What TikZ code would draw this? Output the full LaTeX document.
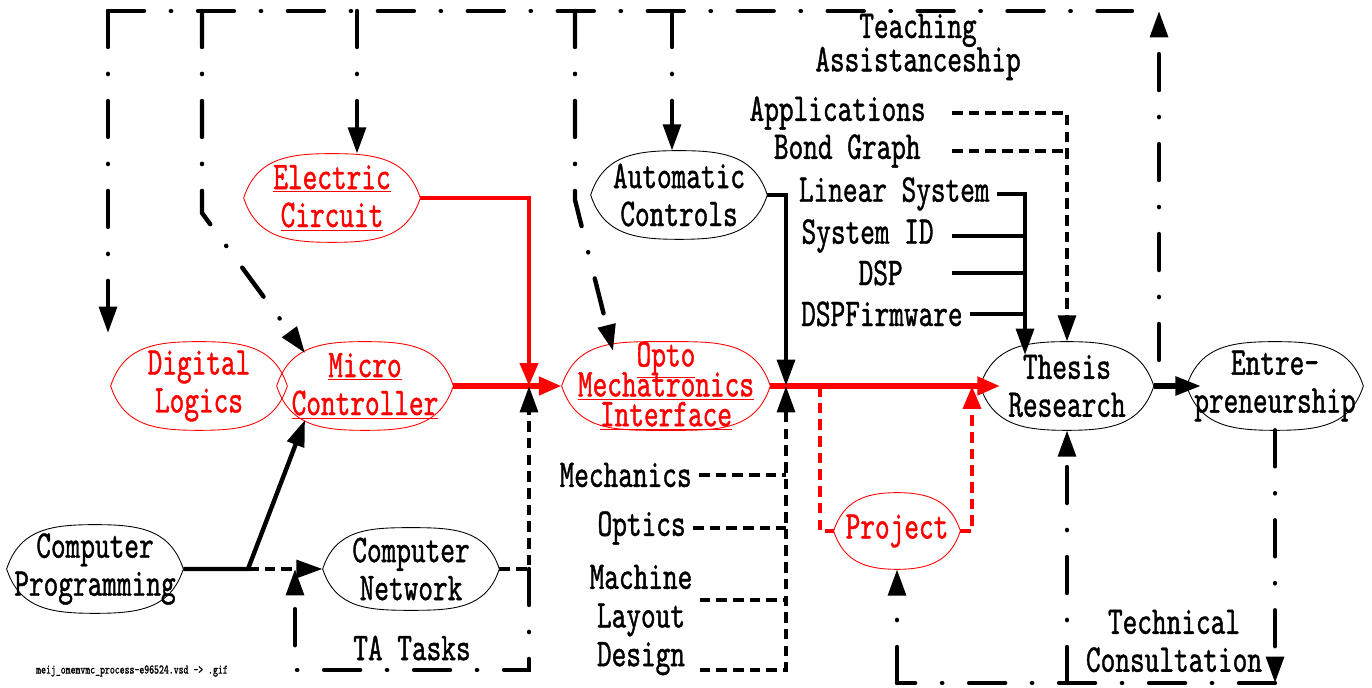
\documentclass[tikz,border=0pt]{standalone}
\usepackage{fontspec}
\setmainfont{lmmono10-regular.otf}[FakeStretch=0.71,FakeBold=1]
\usepackage{tikz}
\usetikzlibrary{arrows.meta}
\definecolor{linkred}{rgb}{1,0,0}
\newcommand{\lens}[2]{\draw[#2,line width=0.5pt,looseness=1.1] (#1.west) to[out=72,in=180] (#1.north) to[out=0,in=108] (#1.east) to[out=-108,in=0] (#1.south) to[out=180,in=-72] cycle;}
\newcommand{\setfont}[2]{\fontsize{#1}{#2}\selectfont\lineskiplimit=-30pt\lineskip=0pt}

\begin{document}
\begin{tikzpicture}[x=0.02cm, y=0.02cm,
  every node/.style={inner sep=0pt, font=\setfont{22.4}{21.6}, align=center},
  topic/.style={minimum width=3.52cm, minimum height=1.76cm},
  redtopic/.style={topic, text=linkred},
  tag/.style={inner xsep=4pt},
  blk/.style={line width=2.5pt},
  blkthick/.style={line width=3.7pt},
  dotl/.style={line width=2.5pt, line cap=butt, dash pattern=on 6pt off 3.5pt},
  tadash/.style={line width=2.5pt, line cap=round, dash pattern=on 20.5pt off 15.25pt on 0.2pt off 15.25pt},
  redthick/.style={linkred, line width=3.7pt},
  redthin/.style={linkred, line width=2.8pt},
  reddash/.style={dotl, linkred},
  arr/.style={-{Triangle[length=15pt,width=10pt]}},
  rarr/.style={-{Triangle[length=13pt,width=10pt]}}]
\useasboundingbox (0,0) rectangle (1372,688);

% topics
\node[redtopic] (EC) at (332,490) {\underline{Electric}\\\underline{Circuit}};
\node[topic] (AC) at (679,493) {Automatic\\Controls};
\node[redtopic] (DL) at (199,302) {Digital\\Logics};
\node[redtopic] (MC) at (365,302) {\underline{Micro}\\\underline{Controller}};
\node[redtopic, minimum width=4.16cm, inner ysep=-4pt, font=\setfont{22.4}{17}] (OM) at (666,302) {\underline{Opto}\\\underline{Mechatronics}\\\underline{Interface}};
\node[topic, minimum width=3.46cm] (TR) at (1067,302) {Thesis\\Research};
\node[topic] (EN) at (1275,302) {Entre-\\preneurship};
\node[topic] (CP) at (95,119) {Computer\\Programming};
\node[topic, minimum height=1.64cm] (CN) at (411,119) {Computer\\Network};
\node[redtopic, minimum width=2.52cm, minimum height=1.52cm] (PJ) at (897,157) {Project};
\lens{EC}{linkred} \lens{DL}{linkred} \lens{MC}{linkred} \lens{OM}{linkred} \lens{PJ}{linkred}
\lens{AC}{black} \lens{TR}{black} \lens{EN}{black} \lens{CP}{black} \lens{CN}{black}

% text labels
\node[font=\setfont{22.4}{19}] (teach) at (918,641) {Teaching\\Assistanceship};
\node[tag, anchor=east] (app) at (933,575) {Applications};
\node[tag, anchor=east] (bond) at (928,537) {Bond Graph};
\node[tag, anchor=east] (lin) at (997,494) {Linear System};
\node[tag, anchor=east] (sid) at (941,452) {System ID};
\node[tag, anchor=east] (dsp) at (910,415) {DSP};
\node[tag, anchor=east] (fw) at (970,374) {DSPFirmware};
\node[tag, anchor=east] (mech) at (699,213) {Mechanics};
\node[tag, anchor=east] (opt) at (693,160) {Optics};
\node[tag, font=\setfont{22.4}{22}] (mld) at (641,68) {Machine\\Layout\\Design};
\node (ta) at (412,40) {TA Tasks};
\node (tech) at (1174,47) {Technical\\Consultation};
\node[font=\setfont{7.5}{10}] (foot) at (132,17) {meij\_omemvmc\_process-e96524.vsd -> .gif};

% points
\coordinate (t1) at (108,677); \coordinate (t2) at (202,677); \coordinate (t3) at (357,677);
\coordinate (t4) at (575,677); \coordinate (t5) at (672,677); \coordinate (tE) at (1132,677);
\coordinate (b2) at (202,475); \coordinate (b4) at (575,488);
\coordinate (dlN) at (108,355);
\coordinate (mcNW) at ([shift={(-60,33)}]MC.center);
\coordinate (mcSW) at ([shift={(-60,-34)}]MC.center);
\coordinate (omNW) at ([shift={(-53,35)}]OM.center);
\coordinate (trNW) at ([shift={(-42,31)}]TR.center);
\coordinate (jA) at (529,302); \coordinate (jB) at (248,119); \coordinate (jC) at (786,302);
\coordinate (jD) at (820,302); \coordinate (jE) at (972,302);
\coordinate (colL) at (952,0);
\coordinate (ta0) at (1159,328);
\coordinate (cBR) at (EN.south |- 0,5); \coordinate (cBL) at (PJ.south |- 0,5);
\coordinate (tB) at (529,18); \coordinate (tA) at (295,18); \coordinate (jT) at (295,119);

% teaching assistanceship
\draw[tadash] (t1) -- (tE);
\draw[tadash,arr] (t1) -- (dlN);
\draw[tadash,arr] (t2) -- (b2) -- (mcNW);
\draw[tadash,arr] (t3) -- (t3 |- EC.north);
\draw[tadash,arr] (t4) -- (b4) -- (omNW);
\draw[tadash,arr] (t5) -- (t5 |- AC.north);
\draw[tadash,arr] (ta0) -- (ta0 |- tE);

% main path
\draw[redthick,rarr] (MC.east) -- (OM.west);
\draw[redthin,rarr] (EC.east) -| (jA);
\draw[redthick,rarr] (OM.east) -- ([xshift=0.4cm]TR.west);
\draw[reddash] (jD) |- (PJ.west);
\draw[reddash,rarr] (PJ.east) -| (jE);
\draw[blk,arr] (AC.east) -| (jC);
\draw[blk,arr] (CP.east) -- (jB) -- (mcSW);
\draw[dotl,arr] (jB) -- (CN.west);
\draw[dotl,arr] (CN.east) -| (jA);
\draw[blkthick,arr] (TR.east) -- ([xshift=0.3cm]EN.west);

% TA tasks
\draw[tadash,arr] (jA |- CN.east) -- (tB) -- (tA) -- (jT);

% courses into the opto interface
\draw[dotl] (mech.east) -- (mech.east -| jC);
\draw[dotl] (opt.east) -- (opt.east -| jC);
\draw[dotl] (mld.east |- 0,88) -- (jC |- 0,88);
\draw[dotl,arr] (mld.east |- 0,18) -| (jC);

% courses into the thesis
\draw[dotl,arr] (app.east -| colL) -| (TR.north);
\draw[dotl] (bond.east -| colL) -- (bond.east -| TR.north);
\draw[blk,arr] (lin.east) -| (trNW);
\draw[blk] (sid.east -| colL) -- (sid.east -| trNW);
\draw[blk] (dsp.east -| colL) -- (dsp.east -| trNW);
\draw[blk] (fw.east) -- (fw.east -| trNW);

% technical consultation
\draw[tadash,arr] (EN.south) -- (cBR);
\draw[tadash] (cBR) -- (cBL);
\draw[tadash,arr] (cBL) -- (PJ.south);
\draw[tadash,arr] (TR.south |- cBL) -- (TR.south);
\end{tikzpicture}
\end{document}
